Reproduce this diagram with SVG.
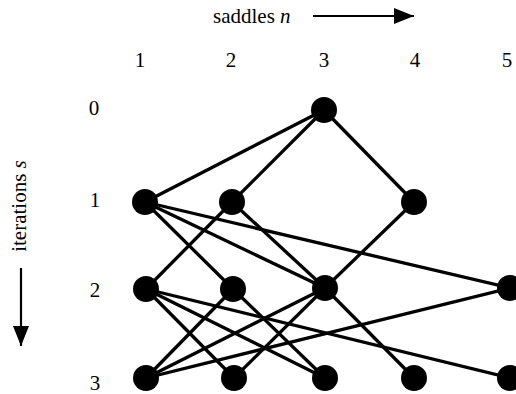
<svg xmlns="http://www.w3.org/2000/svg" width="516" height="394" viewBox="0 0 516 394">
<style>
text{font-family:"Liberation Serif","Times New Roman",serif;font-size:21px;fill:#000}
.c{text-anchor:middle}
.n{fill:#000}
.e{stroke:#000;stroke-width:3.3;fill:none}
.ax{stroke:#000;stroke-width:2.2;fill:none}
</style>
<defs>
<marker id="ah" viewBox="0 0 20 16" refX="20" refY="8" markerWidth="20" markerHeight="16" markerUnits="userSpaceOnUse" orient="auto">
<path d="M0,0 L20,8 L0,16 Z" fill="#000"/>
</marker>
</defs>
<g id="axis-n">
<text x="213" y="23">saddles <tspan font-style="italic">n</tspan></text>
<line class="ax" x1="313" y1="16" x2="414" y2="16" marker-end="url(#ah)"/>
</g>
<g id="axis-s">
<text class="c" transform="translate(26,206) rotate(-90)">iterations <tspan font-style="italic">s</tspan></text>
<line class="ax" x1="21" y1="268" x2="21" y2="346" marker-end="url(#ah)"/>
</g>
<g id="col-labels">
<text class="c" x="140" y="67">1</text>
<text class="c" x="231" y="67">2</text>
<text class="c" x="324" y="67">3</text>
<text class="c" x="415" y="67">4</text>
<text class="c" x="507" y="67">5</text>
</g>
<g id="row-labels">
<text class="c" x="94" y="115">0</text>
<text class="c" x="95" y="207">1</text>
<text class="c" x="95" y="297">2</text>
<text class="c" x="95" y="390">3</text>
</g>
<g id="edges">
<line class="e" x1="324" y1="110" x2="145" y2="202"/>
<line class="e" x1="324" y1="110" x2="232" y2="202"/>
<line class="e" x1="324" y1="110" x2="414" y2="202"/>
<line class="e" x1="145" y1="202" x2="233" y2="289"/>
<line class="e" x1="145" y1="202" x2="325" y2="288"/>
<line class="e" x1="145" y1="202" x2="510" y2="288"/>
<line class="e" x1="232" y1="202" x2="146" y2="289"/>
<line class="e" x1="232" y1="202" x2="325" y2="288"/>
<line class="e" x1="414" y1="202" x2="325" y2="288"/>
<line class="e" x1="146" y1="289" x2="234" y2="378"/>
<line class="e" x1="146" y1="289" x2="325" y2="378"/>
<line class="e" x1="146" y1="289" x2="510" y2="378"/>
<line class="e" x1="233" y1="289" x2="146" y2="378"/>
<line class="e" x1="233" y1="289" x2="325" y2="378"/>
<line class="e" x1="325" y1="288" x2="146" y2="378"/>
<line class="e" x1="325" y1="288" x2="234" y2="378"/>
<line class="e" x1="325" y1="288" x2="414" y2="378"/>
<line class="e" x1="510" y1="288" x2="146" y2="378"/>
</g>
<g id="n3-0"><circle class="n" cx="324" cy="110" r="13"/></g>
<g id="n1-1"><circle class="n" cx="145" cy="202" r="13"/></g>
<g id="n2-1"><circle class="n" cx="232" cy="202" r="13"/></g>
<g id="n4-1"><circle class="n" cx="414" cy="202" r="13"/></g>
<g id="n1-2"><circle class="n" cx="146" cy="289" r="13"/></g>
<g id="n2-2"><circle class="n" cx="233" cy="289" r="13"/></g>
<g id="n3-2"><circle class="n" cx="325" cy="288" r="13"/></g>
<g id="n5-2"><circle class="n" cx="510" cy="288" r="13"/></g>
<g id="n1-3"><circle class="n" cx="146" cy="378" r="13"/></g>
<g id="n2-3"><circle class="n" cx="234" cy="378" r="13"/></g>
<g id="n3-3"><circle class="n" cx="325" cy="378" r="13"/></g>
<g id="n4-3"><circle class="n" cx="414" cy="378" r="13"/></g>
<g id="n5-3"><circle class="n" cx="510" cy="378" r="13"/></g>
</svg>
